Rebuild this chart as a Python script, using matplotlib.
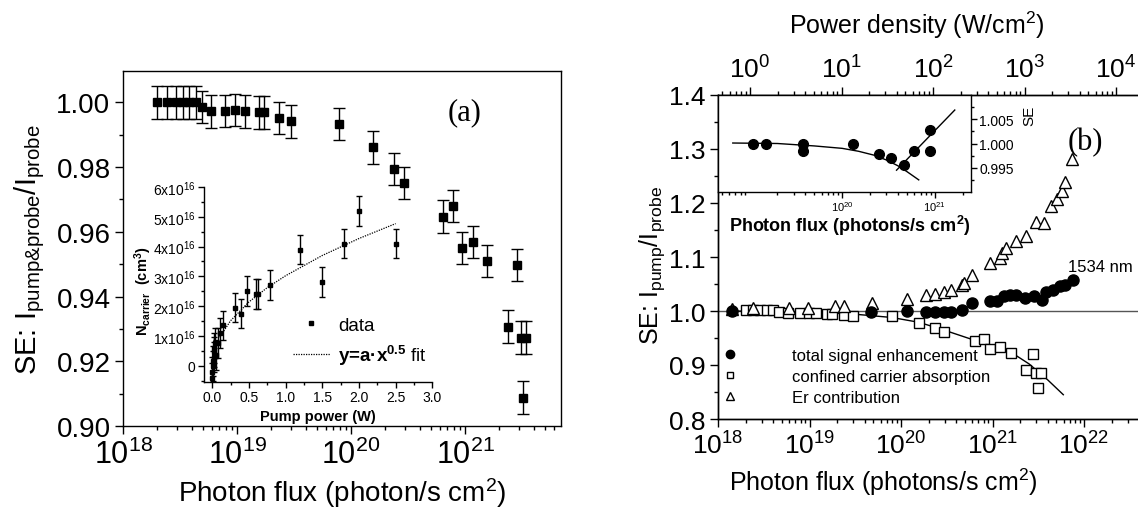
import numpy as np
import matplotlib
matplotlib.use('Agg')
import matplotlib.pyplot as plt
from matplotlib.ticker import MultipleLocator, FuncFormatter, NullFormatter, LogLocator, FixedLocator
from matplotlib.lines import Line2D

plt.rcParams['font.family'] = ['Liberation Sans', 'DejaVu Sans']
plt.rcParams['mathtext.fontset'] = 'custom'
plt.rcParams['mathtext.rm'] = 'Liberation Sans'
plt.rcParams['mathtext.it'] = 'Liberation Sans:italic'
plt.rcParams['mathtext.bf'] = 'Liberation Sans:bold'
plt.rcParams['mathtext.default'] = 'regular'
plt.rcParams['axes.linewidth'] = 1.0

# ---------------- data: panel (a) main ----------------
flux_a = [1.98e18, 2.43e18, 2.94e18, 3.38e18, 3.77e18, 4.33e18, 4.9e18, 5.87e18,
          7.8e18, 9.7e18, 1.17e19, 1.57e19, 1.74e19, 2.33e19, 2.96e19, 7.8e19,
          1.57e20, 2.37e20, 2.92e20, 6.37e20, 7.9e20, 9.34e20, 1.17e21, 1.57e21,
          2.84e21, 2.37e21, 3.08e21, 3.40e21, 3.24e21]
se_a = [1.000, 1.000, 1.000, 1.000, 1.000, 1.000, 0.9985, 0.9972,
        0.9974, 0.9977, 0.9972, 0.9969, 0.9969, 0.9951, 0.9941, 0.9934,
        0.9861, 0.9795, 0.9750, 0.9647, 0.9680, 0.9550, 0.9569, 0.9510,
        0.9497, 0.9307, 0.9273, 0.9273, 0.9088]
err_a = 0.005

# ---------------- data: panel (a) inset ----------------
pump_power = [0.0, 0.0, 0.01, 0.01, 0.02, 0.02, 0.03, 0.04, 0.05, 0.08, 0.11, 0.15,
              0.31, 0.39, 0.47, 0.59, 0.63, 0.79, 1.2, 1.5, 1.8, 2.0, 2.5]
n_carrier = [-0.4, -0.2, 0.0, 0.15, 0.3, 0.45, 0.6, 0.75, 0.35, 0.75, 1.1, 1.35,
             1.95, 1.75, 2.5, 2.4, 2.4, 2.7, 3.9, 2.8, 4.1, 5.2, 4.1]   # x1e16 cm^-3
n_err = 0.5
fit_power = [0.1, 0.25, 0.5, 0.75, 1.0, 1.5, 2.0, 2.5]
fit_n = [0.95, 1.51, 2.14, 2.62, 3.02, 3.70, 4.27, 4.77]

# ---------------- data: panel (b) main ----------------
flux_tot = [1.41e18, 4.68e19, 1.17e20, 1.86e20, 2.34e20, 2.95e20, 3.55e20, 4.68e20,
            6.03e20, 9.33e20, 1.12e21, 1.32e21, 1.55e21, 1.82e21, 2.29e21, 2.82e21,
            3.47e21, 3.89e21, 4.57e21, 5.50e21, 6.17e21, 7.59e21]
se_tot = [1.000, 0.999, 1.000, 0.998, 0.998, 0.998, 0.999, 1.002,
          1.015, 1.019, 1.018, 1.027, 1.030, 1.030, 1.024, 1.027,
          1.021, 1.036, 1.039, 1.046, 1.049, 1.058]

flux_cca = [2.00e18, 2.40e18, 2.88e18, 3.39e18, 3.98e18, 4.68e18, 5.89e18, 7.94e18,
            9.77e18, 1.17e19, 1.55e19, 1.78e19, 2.40e19, 3.02e19, 7.94e19, 1.58e20,
            2.34e20, 2.95e20, 6.46e20, 8.13e20, 9.33e20, 1.20e21, 1.58e21, 2.34e21,
            2.75e21, 3.02e21, 3.39e21, 3.16e21]
se_cca = [1.002, 1.001, 1.001, 1.001, 1.001, 0.999, 0.996, 0.996,
          0.996, 0.996, 0.995, 0.995, 0.993, 0.990, 0.990, 0.978,
          0.968, 0.961, 0.944, 0.949, 0.929, 0.933, 0.923, 0.891,
          0.921, 0.886, 0.886, 0.857]

flux_er = [1.41e18, 2.40e18, 6.03e18, 9.55e18, 1.91e19, 2.40e19, 4.79e19, 1.17e20,
           1.86e20, 2.34e20, 2.95e20, 3.55e20, 4.68e20, 4.90e20, 6.03e20, 9.33e20,
           1.20e21, 1.26e21, 1.41e21, 1.82e21, 2.34e21, 3.02e21, 3.63e21, 4.37e21,
           5.01e21, 5.75e21, 6.17e21, 7.41e21]
se_er = [1.003, 1.006, 1.005, 1.006, 1.009, 1.010, 1.015, 1.023,
         1.029, 1.032, 1.035, 1.039, 1.049, 1.052, 1.067, 1.089,
         1.098, 1.108, 1.117, 1.130, 1.139, 1.165, 1.163, 1.195,
         1.207, 1.223, 1.238, 1.281]

fit_cca_flux = [1.41e18, 1e19, 3.16e19, 7.94e19, 1.58e20, 3.16e20, 6.31e20, 1e21,
                1.58e21, 2.51e21, 3.98e21, 5.94e21]
fit_cca_se = [1.000, 0.998, 0.994, 0.988, 0.979, 0.963, 0.946, 0.935,
              0.924, 0.902, 0.873, 0.845]

legend_labels = ['total signal enhancement', 'confined carrier absorption', 'Er contribution']

# ---------------- data: panel (b) inset ----------------
ins_flux = [1.09e19, 1.50e19, 3.79e19, 3.79e19, 1.32e20, 2.52e20, 3.39e20, 4.67e20,
            5.94e20, 8.84e20, 8.84e20]
ins_se = [0.9999, 0.9999, 1.0000, 0.9985, 0.9999, 0.9979, 0.9970, 0.9955,
          0.9985, 0.9985, 1.0027]
ins_fit1_flux = [6.6e18, 2e19, 5e19, 1e20, 1.5e20, 2.2e20, 3e20, 4e20, 5e20, 6.7e20]
ins_fit1_se = [1.0001, 1.0000, 0.9995, 0.9990, 0.9984, 0.9976, 0.9966, 0.9954, 0.9942, 0.9925]
ins_fit2_flux = [3.86e20, 1.64e21]
ins_fit2_se = [0.9945, 1.0069]

# ---------------- figure ----------------
W, H = 1138, 510
fig = plt.figure(figsize=(W / 100, H / 100), dpi=100)


def box(l, t, r, b):
    return [l / W, 1 - b / H, (r - l) / W, (b - t) / H]


def ftxt(x, y, s, **kw):
    fig.text(x / W, 1 - y / H, s, **kw)


SERIF = ['Liberation Serif', 'DejaVu Serif']

# ===== panel (a) =====
axa = fig.add_axes(box(123, 72, 561, 427))
axa.errorbar(flux_a, se_a, yerr=err_a, fmt='s', ms=5.5, color='k', ecolor='k',
             elinewidth=1.0, capsize=4, capthick=1.0, zorder=3)
axa.set_xscale('log')
axa.set_xlim(1e18, 10 ** 21.842)
axa.set_ylim(0.90, 1.0097)
axa.yaxis.set_major_locator(MultipleLocator(0.02))
axa.yaxis.set_minor_locator(MultipleLocator(0.01))
axa.yaxis.set_major_formatter(FuncFormatter(lambda v, p: f'{v:.2f}'))
axa.xaxis.set_major_locator(FixedLocator([1e18, 1e19, 1e20, 1e21]))
axa.xaxis.set_minor_locator(LogLocator(base=10, subs=np.arange(2, 10), numticks=20))
axa.xaxis.set_minor_formatter(NullFormatter())
axa.tick_params(which='major', direction='out', length=6, width=1, labelsize=20, pad=3)
axa.tick_params(axis='x', which='major', labelsize=22)
axa.tick_params(which='minor', direction='out', length=3, width=1)
ftxt(30, 250, r'SE: I$_{pump&probe}$/I$_{probe}$', rotation=90,
     ha='center', va='center', fontsize=21)
ftxt(342, 493, r'Photon flux (photon/s cm$^2$)', ha='center', va='center', fontsize=20)
ftxt(465, 113, '(a)', ha='center', va='center', fontsize=22, family=SERIF)

# ----- inset (a) -----
ina = fig.add_axes(box(204, 188, 432.3, 382.7))
ina.patch.set_alpha(0)
ina.errorbar(pump_power, n_carrier, yerr=n_err, fmt='s', ms=2.6, color='k', ecolor='k',
             elinewidth=1.0, capsize=2.2, capthick=1.0, zorder=3)
ina.plot(fit_power, fit_n, ls=(0, (1, 1)), color='k', lw=0.9)
ina.set_xlim(-0.113, 3.0)
ina.set_ylim(-0.54, 6.0)
for s in ['top', 'right']:
    ina.spines[s].set_visible(False)
ina.xaxis.set_major_locator(MultipleLocator(0.5))
ina.xaxis.set_minor_locator(MultipleLocator(0.25))
ina.xaxis.set_major_formatter(FuncFormatter(lambda v, p: f'{v:.1f}'))
ina.yaxis.set_major_locator(MultipleLocator(1))
ina.yaxis.set_minor_locator(MultipleLocator(0.5))
ina.yaxis.set_major_formatter(FuncFormatter(
    lambda v, p: '0' if abs(v) < 1e-9 else r'%dx10$^{16}$' % round(v)))
ina.tick_params(which='major', direction='out', length=4, width=1, labelsize=10, pad=2)
ina.tick_params(which='minor', direction='out', length=2, width=1)
ftxt(318, 417, 'Pump power (W)', ha='center', va='center', fontsize=10.5, fontweight='bold')
ftxt(143, 291, r'N$_{\mathbf{carrier}}$  (cm$^{\mathbf{3}}$)', rotation=90, ha='center',
     va='center', fontsize=10.5, fontweight='bold')
h_data = Line2D([], [], ls='none', marker='s', ms=3, color='k')
h_fit = Line2D([], [], ls=(0, (1, 1)), color='k', lw=0.9)
leg_a = ina.legend([h_data, h_fit], ['data', r'y=a·x$^{0.5}$ $\mathrm{fit}$'],
                   loc='upper left',
                   bbox_to_anchor=((293 - 204) / 228.3, (382.7 - 318) / 194.4),
                   frameon=False, fontsize=13.5, handlelength=1.95, handletextpad=0.45,
                   labelspacing=0.45, borderpad=0, borderaxespad=0)
leg_a.get_texts()[1].set_fontweight('bold')

# ===== panel (b) =====
bl, bt, bb = 718, 96, 420
dec = 91.5
br = bl + 4.75 * dec
axb = fig.add_axes(box(bl, bt, br, bb))
axb.axhline(1.0, color='#555555', lw=1.0, zorder=1)
axb.plot(fit_cca_flux, fit_cca_se, color='k', lw=1.0, zorder=2)
axb.plot(flux_cca, se_cca, ls='none', marker='s', ms=6.5, mfc='white', mec='k', mew=1.0,
         zorder=3)
axb.plot(flux_er, se_er, ls='none', marker='^', ms=8, mfc='white', mec='k', mew=1.0,
         zorder=4)
axb.plot(flux_tot, se_tot, ls='none', marker='o', ms=8, color='k', zorder=5)
axb.set_xscale('log')
axb.set_xlim(1e18, 10 ** 22.75)
axb.set_ylim(0.8, 1.4)
axb.xaxis.set_major_locator(FixedLocator([1e18, 1e19, 1e20, 1e21, 1e22]))
axb.xaxis.set_minor_locator(LogLocator(base=10, subs=np.arange(2, 10), numticks=20))
axb.xaxis.set_minor_formatter(NullFormatter())
axb.yaxis.set_major_locator(MultipleLocator(0.1))
axb.yaxis.set_minor_locator(MultipleLocator(0.05))
axb.yaxis.set_major_formatter(FuncFormatter(lambda v, p: f'{v:.1f}'))
axb.tick_params(which='major', direction='out', length=6, width=1, labelsize=19, pad=3)
axb.tick_params(which='minor', direction='out', length=3, width=1)

leg_h = [Line2D([], [], ls='none', marker='o', ms=6, color='k'),
         Line2D([], [], ls='none', marker='s', ms=5, mfc='white', mec='k', mew=1.0),
         Line2D([], [], ls='none', marker='^', ms=6, mfc='white', mec='k', mew=1.0)]
axb.legend(leg_h, legend_labels, loc='upper left',
           bbox_to_anchor=((722 - bl) / (br - bl), (bb - 349) / (bb - bt)),
           frameon=False, fontsize=12, handlelength=1.0, handletextpad=3.2,
           labelspacing=0.35, borderpad=0, borderaxespad=0)
ftxt(1068, 267, '1534 nm', ha='left', va='center', fontsize=12)
ftxt(1085, 143, '(b)', ha='center', va='center', fontsize=22, family=SERIF)
ftxt(652, 265, r'SE: I$_{pump}$/I$_{probe}$', rotation=90, ha='center',
     va='center', fontsize=18)
ftxt(bl + 165, 482, r'Photon flux (photons/s cm$^2$)', ha='center', va='center', fontsize=18)

# top axis: power density
axt = axb.twiny()
axt.set_xscale('log')
axt.set_xlim(10 ** -0.35, 10 ** 4.40)
axt.xaxis.set_major_locator(FixedLocator([1e0, 1e1, 1e2, 1e3, 1e4]))
axt.xaxis.set_minor_locator(LogLocator(base=10, subs=np.arange(2, 10), numticks=20))
axt.xaxis.set_minor_formatter(NullFormatter())
axt.tick_params(which='major', direction='out', length=6, width=1, labelsize=19, pad=3)
axt.tick_params(which='minor', direction='out', length=3, width=1)
ftxt(917, 25, r'Power density (W/cm$^2$)', ha='center', va='center', fontsize=18)

# ----- inset (b) -----
inb = fig.add_axes(box(718, 96, 971, 193))
inb.plot(ins_fit1_flux, ins_fit1_se, color='k', lw=1.0)
inb.plot(ins_fit2_flux, ins_fit2_se, color='k', lw=1.0)
inb.plot(ins_flux, ins_se, ls='none', marker='o', ms=7, color='k')
inb.set_xscale('log')
inb.set_xlim(10 ** 18.66, 10 ** 21.39)
inb.set_ylim(0.990, 1.010)
inb.yaxis.tick_right()
inb.yaxis.set_major_locator(FixedLocator([0.995, 1.000, 1.005]))
inb.yaxis.set_minor_locator(FixedLocator([0.9925, 0.9975, 1.0025, 1.0075]))
inb.yaxis.set_major_formatter(FuncFormatter(lambda v, p: f'{v:.3f}'))
inb.xaxis.set_major_locator(FixedLocator([1e20, 1e21]))
inb.xaxis.set_minor_locator(LogLocator(base=10, subs=np.arange(2, 10), numticks=20))
inb.xaxis.set_minor_formatter(NullFormatter())
inb.tick_params(which='major', direction='out', length=4, width=1, labelsize=10, pad=2)
inb.tick_params(axis='x', which='major', labelsize=8, pad=1)
inb.tick_params(which='minor', direction='out', length=2, width=1)
ftxt(850, 226, r'Photon flux (photons/s cm$^{\mathbf{2}}$)', ha='center', va='center',
     fontsize=13, fontweight='bold')
ftxt(1029, 116, 'SE', rotation=90, ha='center', va='center', fontsize=11)

fig.savefig('out.png', dpi=100)
